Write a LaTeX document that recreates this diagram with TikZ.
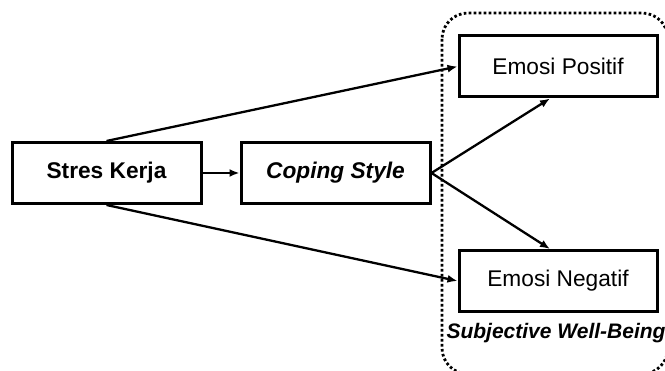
\documentclass[tikz,border=0pt]{standalone}
\usepackage{fontspec}
\setmainfont{Liberation Sans}
\usepackage{tikz}
\usetikzlibrary{arrows.meta,positioning}
\tikzset{
  varbox/.style={draw,line width=3pt,minimum height=61pt,inner sep=0pt,
    font=\fontsize{22.7}{27}\selectfont},
  link/.style={->,line width=2.3pt},
}

\begin{document}
\begin{tikzpicture}[x=1pt,y=1pt,>={Latex[length=10pt,width=8pt]}]
  \clip (0,0) rectangle (665,371);
  \node[varbox,minimum width=189pt] (stres) at (106.5,198) {\bfseries Stres Kerja};
  \node[varbox,minimum width=189pt,right=37pt of stres] (coping) {\bfseries\itshape Coping Style};
  \node[varbox,minimum width=198pt] (pos) at (558,304.5) {Emosi Positif};
  \node[varbox,minimum width=198pt] (neg) at (558,90) {Emosi Negatif};
  % subjective well-being group
  \draw[line width=2.8pt,dash pattern=on 2.6pt off 2.4pt,rounded corners=26pt]
    (442,358) rectangle (668,-3);
  \node[font=\fontsize{21}{25}\selectfont\bfseries\itshape] (swb) at (556,38) {Subjective Well-Being};
  \draw[link] (stres) -- (coping);
  \draw[link] (stres.north) -- (pos.west);
  \draw[link] (stres.south) -- (neg.west);
  \draw[link] (coping.east) -- ([xshift=-8pt]pos.south);
  \draw[link] (coping.east) -- ([xshift=-8pt]neg.north);
\end{tikzpicture}
\end{document}
